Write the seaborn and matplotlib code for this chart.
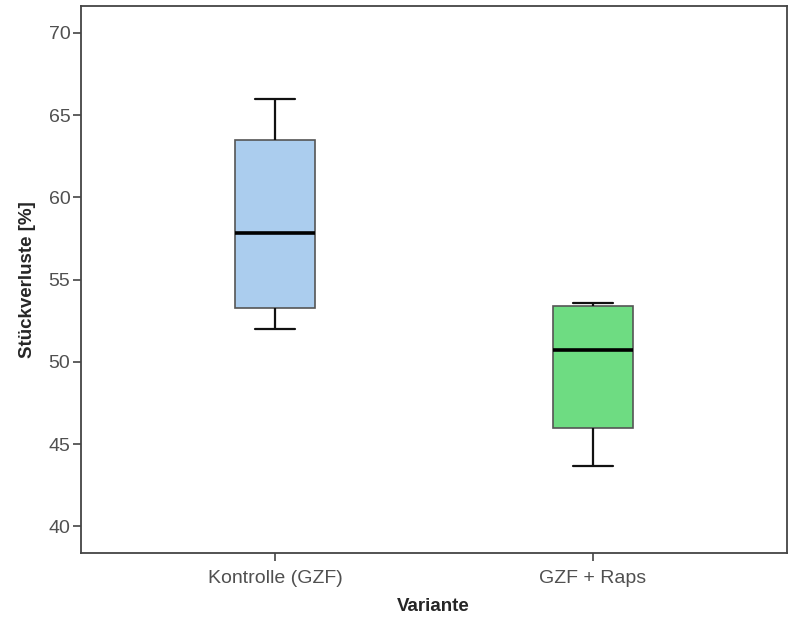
import pandas as pd
import seaborn as sns
import matplotlib.pyplot as plt

# five-number summaries (min, Q1, median, Q3, max)
kontrolle = [52.0, 53.3, 57.85, 63.5, 66.0]
gzf_raps = [43.7, 46.0, 50.75, 53.4, 53.6]
varianten = ['Kontrolle (GZF)', 'GZF + Raps']
farben = ['#abcdee', '#6edc82']
y_ticks = [40, 45, 50, 55, 60, 65, 70]

df = pd.DataFrame({
    'Variante': [varianten[0]] * len(kontrolle) + [varianten[1]] * len(gzf_raps),
    'Stueckverluste': kontrolle + gzf_raps,
})

sns.set_style('ticks')
plt.rcParams['font.family'] = ['Liberation Sans', 'DejaVu Sans']

fig = plt.figure(figsize=(7.92, 6.17), dpi=100)
ax = fig.add_axes([0.1019, 0.1032, 0.8914, 0.8871])

sns.boxplot(
    data=df, x='Variante', y='Stueckverluste', hue='Variante',
    palette=farben, saturation=1, width=0.252, whis=1.5, ax=ax, legend=False,
    boxprops=dict(edgecolor='#555555', linewidth=1.2),
    whiskerprops=dict(color='#111111', linewidth=1.6),
    capprops=dict(color='#111111', linewidth=1.6),
    medianprops=dict(color='#000000', linewidth=2.6),
)

ax.set_xlim(-0.612, 1.611)
ax.set_ylim(38.36, 71.64)
ax.set_yticks(y_ticks)
ax.set_yticklabels([str(t) for t in y_ticks])

for s in ax.spines.values():
    s.set_visible(True)
    s.set_color('#444444')
    s.set_linewidth(1.3)

ax.tick_params(axis='both', direction='out', length=6, width=1.2,
               color='#444444', labelcolor='#505050', labelsize=14)
ax.tick_params(axis='x', pad=6)
ax.tick_params(axis='y', pad=1.5)
ax.set_xlabel('Variante', fontsize=13.5, fontweight='bold', labelpad=8)
ax.set_ylabel('Stückverluste [%]', fontsize=13.5, fontweight='bold', labelpad=9)

fig.savefig('out.png', dpi=100)
